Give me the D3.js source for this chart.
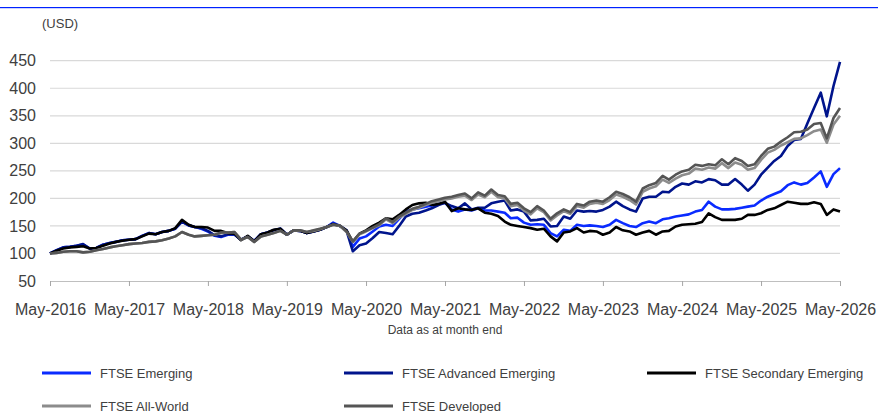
<!DOCTYPE html>
<html>
<head>
<meta charset="utf-8">
<script src="https://cdn.jsdelivr.net/npm/d3@7"></script>
<style>
  body { margin: 0; background: #fff; }
  svg { display: block; font-family: "Liberation Sans", Arial, sans-serif; }
</style>
</head>
<body>
<div id="container"></div>
<script>
/* CONSTANTS AND GLOBALS */
const width = 878,
  height = 413,
  margin = { top: 60.7, bottom: 132, left: 50, right: 38 };

// month-end index values (USD), May-2016 .. May-2026, one row per year
const emerging = [
  100, 106, 111, 112, 114, 116, 109, 110, 116, 119, 121, 124,
  125, 126, 132, 137, 135, 139, 141, 145, 158, 151, 148, 145,
  140, 132, 130, 134, 134, 125, 131, 123, 135, 138, 142, 145,
  134, 142, 141, 137, 140, 143, 148, 156, 150, 142, 112, 127,
  131, 140, 149, 152, 150, 163, 176, 180, 182, 185, 187, 190,
  192, 180, 176, 180, 178, 182, 178, 178, 176, 174, 164, 165,
  156, 152, 153, 152, 137, 131, 143, 141, 152, 150, 151, 150,
  148, 152, 161, 155, 150, 148, 155, 158, 155, 162, 164, 167,
  169, 171, 176, 179, 194, 185, 180, 180, 181, 183, 185, 187,
  196, 203, 208, 213, 224, 229, 225, 228, 238, 249, 221, 244,
  255
];
const advancedEmerging = [
  100, 106, 111, 112, 114, 117, 109, 110, 116, 119, 121, 124,
  125, 126, 132, 137, 135, 139, 141, 145, 158, 151, 148, 146,
  141, 133, 131, 135, 135, 125, 131, 122, 135, 138, 142, 145,
  134, 142, 141, 137, 140, 143, 148, 154, 150, 141, 104, 115,
  118, 128, 139, 137, 135, 150, 167, 172, 174, 178, 182, 188,
  192, 186, 182, 191, 180, 183, 183, 191, 194, 196, 178, 180,
  176, 160, 161, 163, 149, 150, 167, 163, 178, 176, 177, 176,
  179, 185, 194, 186, 180, 176, 200, 203, 203, 212, 211, 221,
  227, 225, 231, 229, 235, 233, 225, 225, 235, 225, 214, 225,
  243, 256, 268, 277, 295, 306, 308, 336, 364, 392, 349, 404,
  448
];
const secondaryEmerging = [
  100, 105, 109, 111, 112, 113, 109, 110, 114, 118, 121, 123,
  125, 126, 131, 136, 135, 139, 141, 146, 161, 152, 148, 148,
  147, 141, 141, 137, 136, 124, 132, 122, 135, 138, 143, 145,
  134, 142, 141, 137, 140, 143, 148, 153, 150, 142, 121, 136,
  142, 150, 156, 164, 162, 170, 180, 188, 191, 192, 188, 190,
  194, 177, 182, 180, 179, 182, 174, 172, 168, 158, 152, 150,
  148, 146, 143, 145, 131, 122, 138, 140, 146, 138, 141, 140,
  134, 138, 148, 142, 140, 134, 138, 141, 134, 140, 141, 149,
  152, 153, 154, 157, 173, 166, 161, 161, 161, 163, 170, 170,
  173, 179, 182, 188, 194, 192, 190, 190, 193, 190, 170, 180,
  176
];
const allWorld = [
  100, 101, 103, 104, 104, 102, 103, 106, 108, 111, 113, 115,
  117, 118, 119, 121, 122, 124, 127, 131, 139, 134, 131, 132,
  133, 134, 137, 138, 139, 125, 130, 121, 131, 134, 137, 141,
  134, 142, 142, 139, 141, 144, 148, 152, 150, 139, 121, 135,
  140, 146, 151, 162, 155, 165, 172, 179, 183, 188, 192, 195,
  198, 200, 203, 205, 197, 207, 202, 212, 202, 200, 186, 188,
  178, 171, 182, 175, 160, 169, 177, 172, 186, 183, 190, 192,
  190, 197, 207, 203, 197, 189, 212, 218, 222, 234, 228, 236,
  242, 245, 254, 252, 256, 254, 264, 255, 265, 261, 252, 255,
  270, 283, 288, 296, 302, 308, 309, 315, 322, 325, 301, 334,
  350
];
const developed = [
  100, 101, 103, 104, 104, 102, 103, 106, 108, 111, 113, 115,
  117, 118, 119, 121, 122, 124, 127, 131, 139, 134, 131, 132,
  133, 134, 138, 138, 139, 125, 130, 121, 131, 134, 137, 141,
  134, 142, 142, 139, 142, 145, 148, 152, 151, 140, 122, 136,
  141, 147, 153, 164, 157, 167, 174, 181, 185, 190, 195, 198,
  201, 203, 206, 209, 200, 211, 205, 216, 206, 204, 190, 192,
  182, 175, 186, 178, 163, 173, 180, 175, 190, 187, 194, 196,
  194, 202, 212, 208, 202, 194, 218, 224, 228, 241, 234, 243,
  249, 252, 261, 259, 262, 260, 271, 262, 273, 268, 259, 262,
  277, 290, 294, 303, 311, 320, 321, 325, 335, 337, 309, 346,
  364
];

const seriesNames = ["FTSE Emerging", "FTSE Advanced Emerging", "FTSE Secondary Emerging",
                     "FTSE All-World", "FTSE Developed"];
const seriesColors = ["#0a2bff", "#00148c", "#000000", "#8c8c8c", "#555555"];
const yTicks = [50, 100, 150, 200, 250, 300, 350, 400, 450];
const xTickYears = [2016, 2017, 2018, 2019, 2020, 2021, 2022, 2023, 2024, 2025, 2026];

// monthly dates, May-2016 .. May-2026
const months = d3.timeMonth.range(new Date(2016, 4, 1), new Date(2026, 5, 1));

const series = [emerging, advancedEmerging, secondaryEmerging, allWorld, developed]
  .map((values, k) => ({
    name: seriesNames[k],
    color: seriesColors[k],
    values: values.map((v, i) => ({ date: months[i], value: v }))
  }));

// CREATE SVG
const svg = d3.select("#container")
  .append("svg")
  .attr("width", width)
  .attr("height", height);

// top rule
svg.append("rect")
  .attr("x", 0).attr("y", 7)
  .attr("width", width).attr("height", 1.2)
  .attr("fill", "#0022ff");

// SCALES
const xScale = d3.scaleTime()
  .domain([months[0], months[months.length - 1]])
  .range([margin.left, width - margin.right]);

const yScale = d3.scaleLinear()
  .domain([50, 450])
  .range([height - margin.bottom, margin.top]);

// GRIDLINES
svg.selectAll(".grid")
  .data(yTicks.slice(1))
  .join("line")
  .attr("class", "grid")
  .attr("x1", margin.left)
  .attr("x2", width - margin.right)
  .attr("y1", d => yScale(d))
  .attr("y2", d => yScale(d))
  .attr("stroke", "#d9d9d9")
  .attr("stroke-width", 1.2);

// Y AXIS (labels only)
const yAxis = d3.axisLeft(yScale)
  .tickValues(yTicks)
  .tickSize(0)
  .tickPadding(14);

svg.append("g")
  .attr("transform", `translate(${margin.left},0)`)
  .call(yAxis)
  .call(g => g.select(".domain").remove())
  .selectAll("text")
  .attr("font-size", 16)
  .attr("font-family", "Liberation Sans, Arial, sans-serif")
  .attr("fill", "#404040");

// X AXIS
const xAxis = d3.axisBottom(xScale)
  .tickValues(xTickYears.map(y => new Date(y, 4, 1)))
  .tickFormat(d3.timeFormat("%b-%Y"))
  .tickSize(5)
  .tickSizeOuter(0)
  .tickPadding(18);

svg.append("g")
  .attr("transform", `translate(0,${yScale(50)})`)
  .call(xAxis)
  .call(g => g.select(".domain").attr("stroke", "#bfbfbf").attr("stroke-width", 1.2))
  .call(g => g.selectAll(".tick line").attr("stroke", "#a6a6a6"))
  .selectAll("text")
  .attr("font-size", 16)
  .attr("font-family", "Liberation Sans, Arial, sans-serif")
  .attr("fill", "#404040");

// UNIT LABEL
svg.append("text")
  .attr("x", 42)
  .attr("y", 28)
  .attr("font-size", 13)
  .attr("fill", "#404040")
  .text("(USD)");

// NOTE
svg.append("text")
  .attr("x", (margin.left + width - margin.right) / 2)
  .attr("y", 334)
  .attr("text-anchor", "middle")
  .attr("font-size", 12)
  .attr("fill", "#404040")
  .text("Data as at month end");

// LINES
const lineGen = d3.line()
  .x(d => xScale(d.date))
  .y(d => yScale(d.value));

svg.selectAll(".series-line")
  .data(series)
  .join("path")
  .attr("class", "series-line")
  .attr("fill", "none")
  .attr("stroke", d => d.color)
  .attr("stroke-width", 2.6)
  .attr("stroke-linejoin", "round")
  .attr("d", d => lineGen(d.values));

// LEGEND
const legendPos = [[42, 373], [344, 373], [647, 373], [42, 406], [344, 406]];

const legend = svg.selectAll(".legend-item")
  .data(series)
  .join("g")
  .attr("class", "legend-item")
  .attr("transform", (d, i) => `translate(${legendPos[i][0]}, ${legendPos[i][1]})`);

legend.append("line")
  .attr("x1", 0).attr("x2", 49)
  .attr("stroke", d => d.color)
  .attr("stroke-width", 3);

legend.append("text")
  .attr("x", 58)
  .attr("dy", "0.36em")
  .attr("font-size", 13)
  .attr("fill", "#404040")
  .text(d => d.name);
</script>
</body>
</html>
